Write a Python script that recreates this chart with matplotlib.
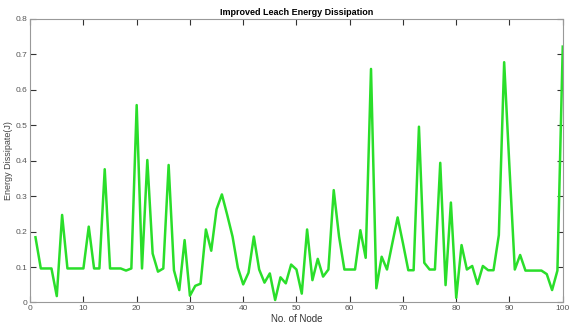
import matplotlib.pyplot as plt

# Energy dissipated by each node (improved LEACH)
nodos = list(range(1, 101))
energia = [
    0.184, 0.096, 0.096, 0.096, 0.018, 0.247, 0.096, 0.096, 0.096, 0.096,
    0.214, 0.096, 0.096, 0.376, 0.096, 0.096, 0.096, 0.090, 0.096, 0.557,
    0.096, 0.402, 0.138, 0.087, 0.096, 0.388, 0.091, 0.035, 0.176, 0.019,
    0.047, 0.053, 0.206, 0.146, 0.263, 0.305, 0.247, 0.186, 0.098, 0.051,
    0.084, 0.186, 0.093, 0.056, 0.082, 0.007, 0.071, 0.054, 0.107, 0.093,
    0.025, 0.206, 0.063, 0.123, 0.073, 0.093, 0.317, 0.186, 0.093, 0.093,
    0.093, 0.204, 0.126, 0.659, 0.040, 0.129, 0.093, 0.167, 0.240, 0.167,
    0.091, 0.091, 0.496, 0.112, 0.093, 0.093, 0.394, 0.049, 0.282, 0.013,
    0.162, 0.093, 0.103, 0.052, 0.103, 0.091, 0.091, 0.190, 0.678, 0.380,
    0.093, 0.134, 0.090, 0.090, 0.090, 0.090, 0.080, 0.035, 0.090, 0.722,
]
ticks_x = list(range(0, 101, 10))
ticks_y = [0, 0.1, 0.2, 0.3, 0.4, 0.5, 0.6, 0.7, 0.8]
etiquetas_y = ['0', '0.1', '0.2', '0.3', '0.4', '0.5', '0.6', '0.7', '0.8']

plt.rcParams['font.family'] = ['Liberation Sans', 'DejaVu Sans']

fig = plt.figure(figsize=(5.69, 3.27), dpi=100)
ax = fig.add_axes([0.053, 0.075, 0.936, 0.867])

ax.plot(nodos, energia, color='#2ade2a', linewidth=1.8)

ax.set_xlim(0, 100)
ax.set_ylim(0, 0.8)
ax.set_xticks(ticks_x)
ax.set_yticks(ticks_y)
ax.set_yticklabels(etiquetas_y)
ax.tick_params(direction='in', length=4, width=0.8, color='#333333',
               labelsize=6, labelcolor='#555555', top=True, right=True, pad=2)
for s in ax.spines.values():
    s.set_color('#999999')
    s.set_linewidth(0.8)

ax.set_xlabel('No. of Node', fontsize=7, color='#333333', labelpad=1)
ax.set_ylabel('Energy Dissipate(J)', fontsize=6.5, color='#444444', labelpad=2)
ax.set_title('Improved Leach Energy Dissipation', fontsize=6.5, fontweight='bold', pad=3)

fig.savefig('out.png', dpi=100)
